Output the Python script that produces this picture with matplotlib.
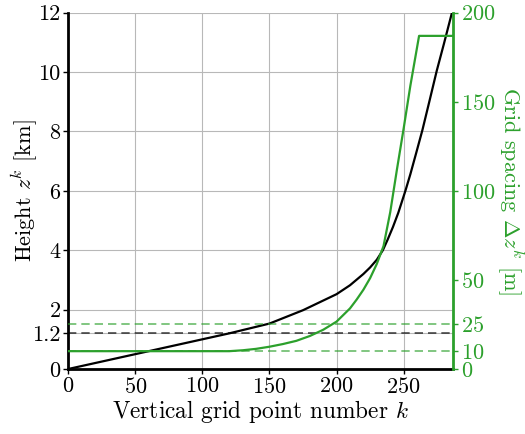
import matplotlib
matplotlib.use("Agg")
import matplotlib.pyplot as plt

plt.rcParams['font.family'] = ['cmr10', 'DejaVu Serif']
plt.rcParams['mathtext.fontset'] = 'cm'
plt.rcParams['axes.formatter.use_mathtext'] = True
plt.rcParams['font.size'] = 16

# height of grid levels (km)
k_height = [0, 50, 100, 120, 150, 175, 200, 210, 220, 225, 230, 234.5, 238,
            242, 246, 251.3, 255, 259.5, 264, 269, 274.7, 280, 286]
height_km = [0, 0.5, 1.0, 1.2, 1.53, 1.98, 2.52, 2.82, 3.2, 3.42, 3.68, 4.0,
             4.35, 4.78, 5.26, 6.0, 6.56, 7.3, 8.05, 8.98, 10.05, 10.95, 12.0]

# grid spacing (m)
k_spacing = [0, 120, 130, 140, 150, 160, 170, 180, 190, 200, 210, 215, 220,
             225, 230, 235, 240, 245, 250, 255, 261.5, 287]
spacing_m = [10, 10, 10.5, 11.3, 12.5, 14, 15.8, 18.5, 22, 26.6, 34, 39,
             44.5, 51, 59, 69, 88, 112, 135, 159, 187, 187]

left_ticks = [0, 1.2, 2, 4, 6, 8, 10, 12]
right_ticks = [0, 10, 25, 50, 100, 150, 200]
x_ticks = [0, 50, 100, 150, 200, 250]
ref_height = 1.2
ref_spacing = [25, 10]

green = '#2ca02c'

fig = plt.figure(figsize=(5.25, 4.34), dpi=100)
ax = fig.add_axes([0.130, 0.1498, 0.7334, 0.8209])
ax2 = ax.twinx()

ax.plot(k_height, height_km, color='k', lw=1.6, zorder=3)
ax.axhline(ref_height, color='k', ls='--', lw=1.2, alpha=0.7, dashes=(5, 3))
ax.set_xlim(0, 287)
ax.set_ylim(0, 12)
ax.set_xticks(x_ticks)
ax.set_yticks(left_ticks)
ax.set_yticklabels([str(t) for t in left_ticks])
ax.grid(True, color='#b8b8b8', lw=0.8)
ax.set_axisbelow(True)
ax.set_xlabel('Vertical grid point number $k$', labelpad=1, fontsize=16.8)
ax.set_ylabel('Height $z^k$ [km]', va='center')
ax.yaxis.set_label_coords(-0.112, 0.5)

for h in ref_spacing:
    ax2.axhline(h, color=green, ls='--', lw=1.2, alpha=0.7, dashes=(5, 3))
ax2.plot(k_spacing, spacing_m, color=green, lw=1.6)
ax2.set_ylim(0, 200)
ax2.set_yticks(right_ticks)
ax2.set_ylabel(r'Grid spacing $\Delta z^k$ [m]', color=green, rotation=270,
               va='center')
ax2.yaxis.set_label_coords(1.147, 0.5)
ax2.tick_params(axis='y', colors=green, length=3.5, width=1)

ax.tick_params(length=3.5, width=1, pad=2)
ax2.tick_params(pad=2)

for a in (ax, ax2):
    a.spines['top'].set_visible(False)
ax.spines['right'].set_visible(False)
ax2.spines['left'].set_visible(False)
ax2.spines['bottom'].set_visible(False)
ax.spines['left'].set_linewidth(2)
ax.spines['bottom'].set_linewidth(2)
ax2.spines['right'].set_linewidth(2)
ax2.spines['right'].set_color(green)

fig.savefig('out.png', dpi=100)
